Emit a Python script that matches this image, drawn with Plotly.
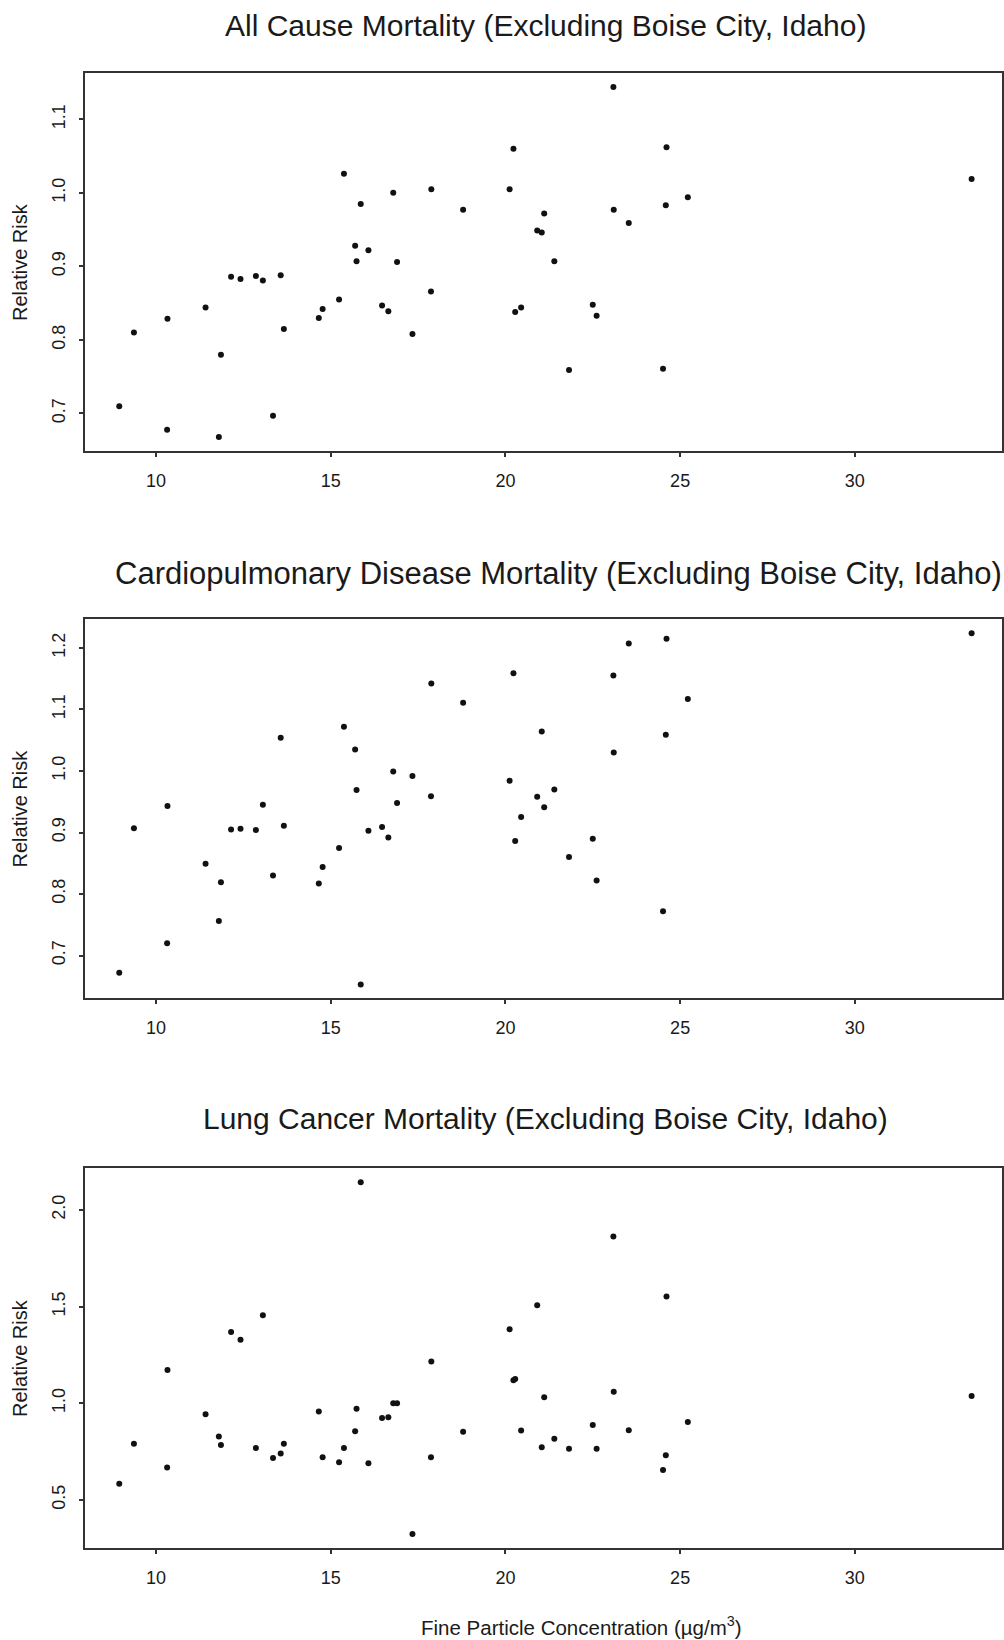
import plotly.graph_objects as go

# Fine particle concentration (ug/m3) for each metropolitan area, Boise excluded
pm25 = [8.95, 9.37, 10.32, 10.33, 11.42, 11.80, 11.86, 12.15, 12.42, 12.86,
        13.06, 13.35, 13.57, 13.66, 14.66, 14.77, 15.24, 15.38, 15.70, 15.74,
        15.86, 16.08, 16.47, 16.65, 16.79, 16.90, 17.34, 17.87, 17.88, 18.79,
        20.12, 20.23, 20.28, 20.45, 20.91, 21.04, 21.11, 21.40, 21.82, 22.50,
        22.61, 23.09, 23.10, 23.53, 24.51, 24.59, 24.61, 25.22, 33.34]

# Relative risk by cause of death, same city order as pm25
rr_all_cause = [0.710, 0.810, 0.678, 0.829, 0.844, 0.668, 0.780, 0.886, 0.883, 0.887,
                0.881, 0.697, 0.888, 0.815, 0.830, 0.842, 0.855, 1.026, 0.928, 0.907,
                0.985, 0.922, 0.847, 0.839, 1.000, 0.906, 0.808, 0.866, 1.005, 0.977,
                1.005, 1.060, 0.838, 0.844, 0.949, 0.946, 0.972, 0.907, 0.759, 0.848,
                0.833, 1.144, 0.977, 0.959, 0.761, 0.983, 1.062, 0.994, 1.019]

rr_cardiopulmonary = [0.672, 0.907, 0.720, 0.943, 0.849, 0.756, 0.819, 0.905, 0.906, 0.904,
                      0.945, 0.830, 1.054, 0.911, 0.817, 0.844, 0.875, 1.072, 1.035, 0.969,
                      0.653, 0.903, 0.909, 0.892, 0.999, 0.948, 0.992, 0.959, 1.142, 1.111,
                      0.984, 1.159, 0.886, 0.925, 0.958, 1.064, 0.941, 0.970, 0.860, 0.890,
                      0.822, 1.155, 1.030, 1.207, 0.772, 1.059, 1.215, 1.117, 1.224]

rr_lung_cancer = [0.583, 0.790, 0.667, 1.172, 0.943, 0.828, 0.784, 1.369, 1.328, 0.769,
                  1.455, 0.717, 0.740, 0.790, 0.957, 0.721, 0.695, 0.769, 0.855, 0.971,
                  2.143, 0.690, 0.924, 0.928, 1.000, 1.000, 0.324, 0.721, 1.216, 0.853,
                  1.383, 1.119, 1.125, 0.859, 1.507, 0.772, 1.031, 0.816, 0.764, 0.888,
                  0.764, 1.862, 1.060, 0.860, 0.655, 0.731, 1.552, 0.903, 1.038]

panel_titles = ["All Cause Mortality (Excluding Boise City, Idaho)",
                "Cardiopulmonary Disease Mortality (Excluding Boise City, Idaho)",
                "Lung Cancer Mortality (Excluding Boise City, Idaho)"]
x_ticks = [10, 15, 20, 25, 30]
y_ticks = [[0.7, 0.8, 0.9, 1.0, 1.1],
           [0.7, 0.8, 0.9, 1.0, 1.1, 1.2],
           [0.5, 1.0, 1.5, 2.0]]
y_ranges = [[0.649, 1.163], [0.631, 1.247], [0.251, 2.217]]
x_label = "Fine Particle Concentration (µg/m<sup>3</sup>)"
y_label = "Relative Risk"

W, H = 1004, 1640
FONT = "Liberation Sans, Arial, Helvetica, sans-serif"
INK = "#1a1a1a"

# panel boxes in pixels: (top, bottom)
boxes = [(73, 451), (619, 998), (1168, 1548)]
left_px, right_px = 85, 1002
title_pos = [(545, 25), (558, 573), (545, 1118)]
title_sizes = [30, 31, 30]

fig = go.Figure()
series = [rr_all_cause, rr_cardiopulmonary, rr_lung_cancer]

for i, rr in enumerate(series):
    sfx = "" if i == 0 else str(i + 1)
    fig.add_trace(go.Scatter(
        x=pm25, y=rr, mode="markers",
        marker=dict(size=6, color="#111111", symbol="circle", line=dict(width=0)),
        xaxis="x" + sfx, yaxis="y" + sfx, showlegend=False, hoverinfo="x+y"))

    top, bottom = boxes[i]
    axis_common = dict(showgrid=False, zeroline=False, showline=True, mirror=True,
                       linecolor="#333333", linewidth=2, ticks="outside",
                       ticklen=4, tickwidth=1.5, tickcolor="#333333",
                       tickfont=dict(family=FONT, size=18, color=INK))
    fig.update_layout(**{
        "xaxis" + sfx: dict(axis_common, domain=[left_px / W, right_px / W],
                            range=[7.97, 34.21], tickvals=x_ticks,
                            anchor="y" + sfx, ticklabelstandoff=8),
        "yaxis" + sfx: dict(axis_common, domain=[1 - bottom / H, 1 - top / H],
                            range=y_ranges[i], tickvals=y_ticks[i],
                            tickformat=".1f", tickangle=-90,
                            anchor="x" + sfx, ticklabelstandoff=7),
    })

    tx, ty = title_pos[i]
    fig.add_annotation(text=panel_titles[i], x=tx / W, y=1 - ty / H,
                       xref="paper", yref="paper", showarrow=False,
                       xanchor="center", yanchor="middle",
                       font=dict(family=FONT, size=title_sizes[i], color=INK))
    fig.add_annotation(text=y_label, x=20 / W, y=1 - (top + bottom) / 2 / H,
                       xref="paper", yref="paper", showarrow=False, textangle=-90,
                       xanchor="center", yanchor="middle",
                       font=dict(family=FONT, size=20, color=INK))

fig.add_annotation(text=x_label, x=581 / W, y=1 - 1626 / H,
                   xref="paper", yref="paper", showarrow=False,
                   xanchor="center", yanchor="middle",
                   font=dict(family=FONT, size=20.5, color=INK))

fig.update_layout(width=W, height=H, margin=dict(l=0, r=0, t=0, b=0),
                  paper_bgcolor="white", plot_bgcolor="white",
                  font=dict(family=FONT, color=INK))

fig.write_html("out.html")
